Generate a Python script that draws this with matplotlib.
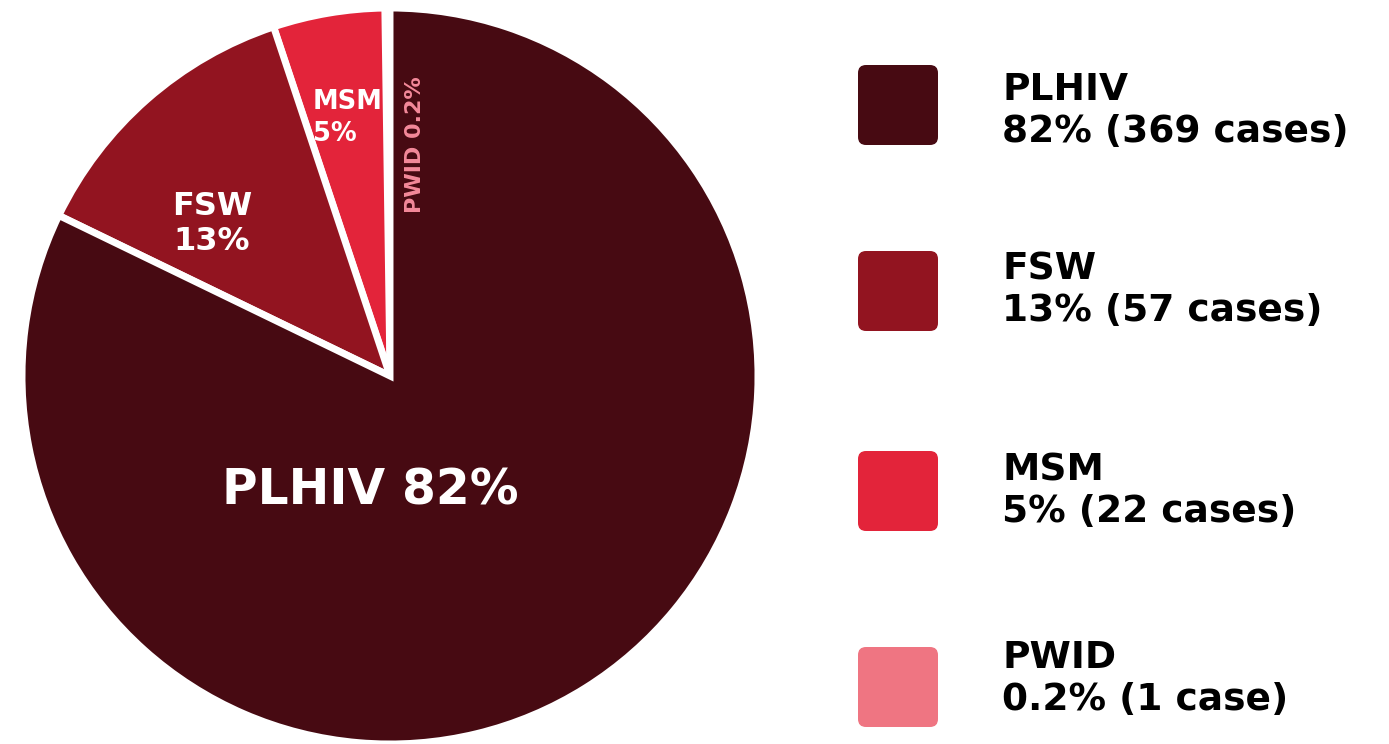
import matplotlib.pyplot as plt
from matplotlib.patches import FancyBboxPatch

# -----------------------------
# Data
# -----------------------------
groups = ["PLHIV", "FSW", "MSM", "PWID"]
cases = [369, 57, 22, 1]
pct_labels = ["82%", "13%", "5%", "0.2%"]
case_labels = ["369 cases", "57 cases", "22 cases", "1 case"]
colors = ["#470a12", "#921420", "#e3243a", "#ef7582"]

plt.rcParams["font.family"] = ["DejaVu Sans"]
plt.rcParams["font.weight"] = "bold"

W, H = 1389, 744
fig = plt.figure(figsize=(W / 100, H / 100), dpi=100)

# pie axes: centre (390, 376) px, radius 368 px
R = 368
cx, cy = 390, 376
ax = fig.add_axes([(cx - R) / W, (H - cy - R) / H, 2 * R / W, 2 * R / H])

# counter-clockwise from 12 o'clock: PWID, MSM, FSW, PLHIV
order = [3, 2, 1, 0]
ax.pie(
    [cases[i] for i in order],
    colors=[colors[i] for i in order],
    startangle=90,
    counterclock=True,
    radius=1,
    wedgeprops=dict(edgecolor="white", linewidth=5),
)
ax.set_xlim(-1, 1)
ax.set_ylim(-1, 1)
ax.set_aspect("equal")
ax.axis("off")

# in-slice labels
ax.text(-0.055, -0.31, f"{groups[0]} {pct_labels[0]}", color="white",
        fontsize=35, fontweight="bold", ha="center", va="center")
ax.text(-0.484, 0.413, f"{groups[1]}\n{pct_labels[1]}", color="white",
        fontsize=23, fontweight="bold", ha="center", va="center",
        linespacing=1.2)
ax.text(-0.21, 0.70, f"{groups[2]}\n{pct_labels[2]}", color="white",
        fontsize=18.5, fontweight="bold", ha="left", va="center",
        linespacing=1.3)
ax.text(0.068, 0.63, f"{groups[3]} {pct_labels[3]}", color="#f4899a",
        fontsize=16, fontweight="bold", ha="center", va="center",
        rotation=90)

# -----------------------------
# Legend (drawn by hand)
# -----------------------------
lax = fig.add_axes([0, 0, 1, 1])
lax.set_xlim(0, W)
lax.set_ylim(H, 0)
lax.axis("off")

box_y = [105, 291, 491, 687]
text_y = [111, 290, 491, 679]
for i, g in enumerate(groups):
    lax.add_patch(FancyBboxPatch(
        (858 + 8, box_y[i] - 40 + 8), 80 - 16, 80 - 16,
        boxstyle="round,pad=8", facecolor=colors[i], edgecolor="none",
    ))
    lax.text(1002, text_y[i], f"{g}\n{pct_labels[i]} ({case_labels[i]})",
             fontsize=27, fontweight="bold", color="black",
             ha="left", va="center", linespacing=1.18)

fig.savefig("out.png", dpi=100)
